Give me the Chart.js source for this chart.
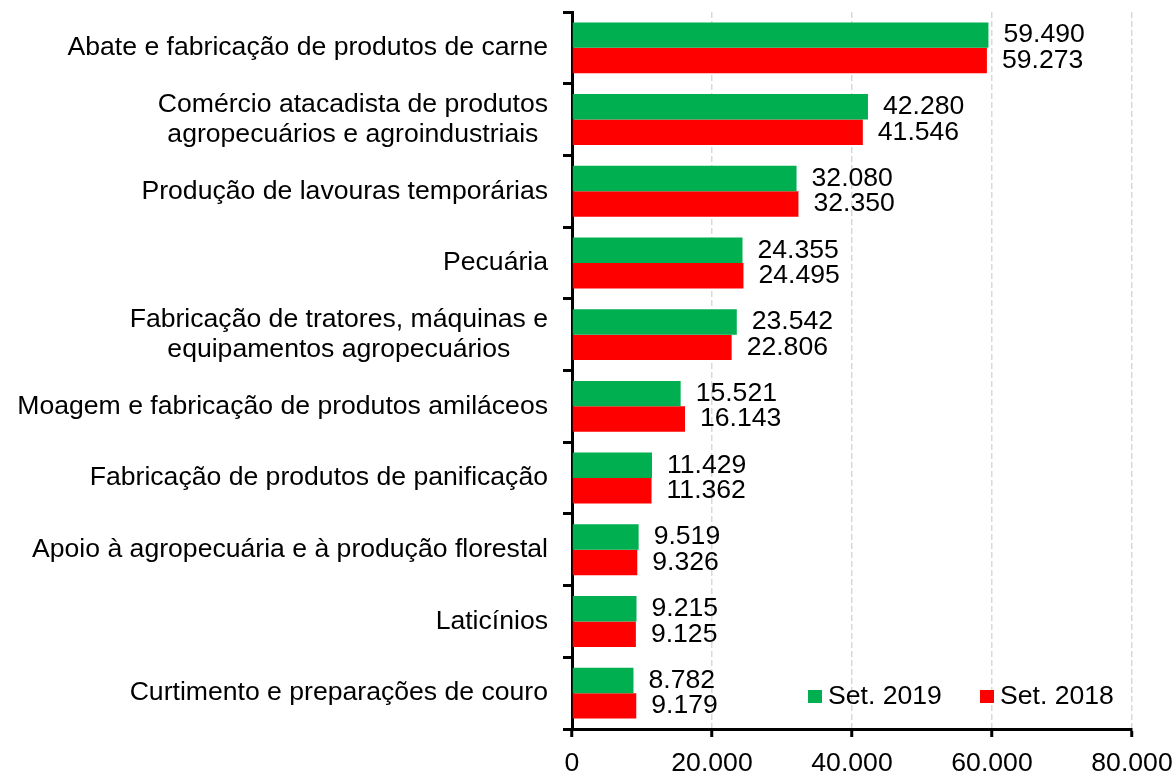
<!DOCTYPE html>
<html lang="pt">
<head>
<meta charset="utf-8">
<title>Empregos por atividade</title>
<script src="https://cdn.jsdelivr.net/npm/chart.js@4.4.0/dist/chart.umd.min.js"></script>
<style>
  html, body { margin: 0; padding: 0; background: #fff; }
  #wrap { width: 1175px; height: 771px; }
</style>
</head>
<body>
<div id="wrap"><canvas id="chart"></canvas></div>
<script>
const categories = [
  ["Abate e fabricação de produtos de carne"],
  ["Comércio atacadista de produtos", "agropecuários e agroindustriais"],
  ["Produção de lavouras temporárias"],
  ["Pecuária"],
  ["Fabricação de tratores, máquinas e", "equipamentos agropecuários"],
  ["Moagem e fabricação de produtos amiláceos"],
  ["Fabricação de produtos de panificação"],
  ["Apoio à agropecuária e à produção florestal"],
  ["Laticínios"],
  ["Curtimento e preparações de couro"]
];
const set2019 = [59490, 42280, 32080, 24355, 23542, 15521, 11429, 9519, 9215, 8782];
const set2018 = [59273, 41546, 32350, 24495, 22806, 16143, 11362, 9326, 9125, 9179];
const seriesNames = ["Set. 2019", "Set. 2018"];
const seriesColors = ["#00b050", "#ff0000"];
const xTicks = [0, 20000, 40000, 60000, 80000];

const FONT = "26.6px 'Liberation Sans', Arial, sans-serif";

function fmt(v) {
  return String(v).replace(/\B(?=(\d{3})+(?!\d))/g, ".");
}

// category labels: block right aligned, lines centered inside the block
const categoryLabels = {
  id: "categoryLabels",
  afterDraw(chart) {
    const ctx = chart.ctx;
    const y = chart.scales.y;
    ctx.save();
    ctx.font = FONT;
    ctx.fillStyle = "#000";
    ctx.textAlign = "center";
    ctx.textBaseline = "middle";
    categories.forEach((lines, i) => {
      const cy = y.getPixelForTick(i);
      const w = Math.max(...lines.map(l => ctx.measureText(l).width));
      const cx = y.right - 24 - w / 2;
      lines.forEach((l, j) => {
        ctx.fillText(l, cx, cy + (j - (lines.length - 1) / 2) * 30);
      });
    });
    ctx.restore();
  }
};

// value labels at the end of each bar
const valueLabels = {
  id: "valueLabels",
  afterDatasetsDraw(chart) {
    const ctx = chart.ctx;
    ctx.save();
    ctx.font = FONT;
    ctx.fillStyle = "#000";
    ctx.textAlign = "left";
    ctx.textBaseline = "middle";
    chart.data.datasets.forEach((ds, di) => {
      chart.getDatasetMeta(di).data.forEach((bar, i) => {
        ctx.fillText(fmt(ds.data[i]), bar.x + 15, bar.y);
      });
    });
    ctx.restore();
  }
};

// legend inside the plot, bottom right
const innerLegend = {
  id: "innerLegend",
  afterDraw(chart) {
    const ctx = chart.ctx;
    const a = chart.chartArea;
    const xs = [a.right - 324, a.right - 152];
    const yTop = a.bottom - 39;
    ctx.save();
    ctx.font = FONT;
    ctx.textAlign = "left";
    ctx.textBaseline = "middle";
    seriesNames.forEach((name, i) => {
      ctx.fillStyle = seriesColors[i];
      ctx.fillRect(xs[i], yTop, 14, 13);
      ctx.fillStyle = "#000";
      ctx.fillText(name, xs[i] + 20, yTop + 6.5);
    });
    ctx.restore();
  }
};

Chart.defaults.font.family = "'Liberation Sans', Arial, sans-serif";
Chart.defaults.font.size = 26.6;
Chart.defaults.color = "#000";

new Chart(document.getElementById("chart"), {
  type: "bar",
  data: {
    labels: categories,
    datasets: [
      { label: seriesNames[0], data: set2019, backgroundColor: seriesColors[0] },
      { label: seriesNames[1], data: set2018, backgroundColor: seriesColors[1] }
    ]
  },
  options: {
    indexAxis: "y",
    responsive: true,
    maintainAspectRatio: false,
    animation: false,
    barPercentage: 1,
    categoryPercentage: 0.71,
    layout: { padding: { top: 12, right: 43, left: 0, bottom: 0 } },
    plugins: {
      legend: { display: false },
      tooltip: { enabled: false }
    },
    scales: {
      x: {
        min: 0,
        max: 80000,
        afterBuildTicks(scale) {
          scale.ticks = xTicks.map(v => ({ value: v }));
        },
        afterFit(scale) {
          scale.height = 42;
          scale.paddingLeft = 0;
          scale.paddingRight = 0;
        },
        ticks: {
          padding: 11,
          callback: v => fmt(v)
        },
        grid: {
          color: ctx => (ctx.tick && ctx.tick.value === 0 ? "rgba(0,0,0,0)" : "#d9d9d9"),
          lineWidth: 1.5,
          tickColor: "#000",
          tickWidth: 3,
          tickLength: 8
        },
        border: { color: "#000", width: 3, dash: [6, 3] }
      },
      y: {
        afterFit(scale) {
          scale.width = 572;
        },
        ticks: { display: false },
        grid: {
          offset: true,
          drawOnChartArea: false,
          color: "#000",
          lineWidth: 3,
          tickLength: 9
        },
        border: { color: "#000", width: 3 }
      }
    }
  },
  plugins: [categoryLabels, valueLabels, innerLegend]
});
</script>
</body>
</html>
